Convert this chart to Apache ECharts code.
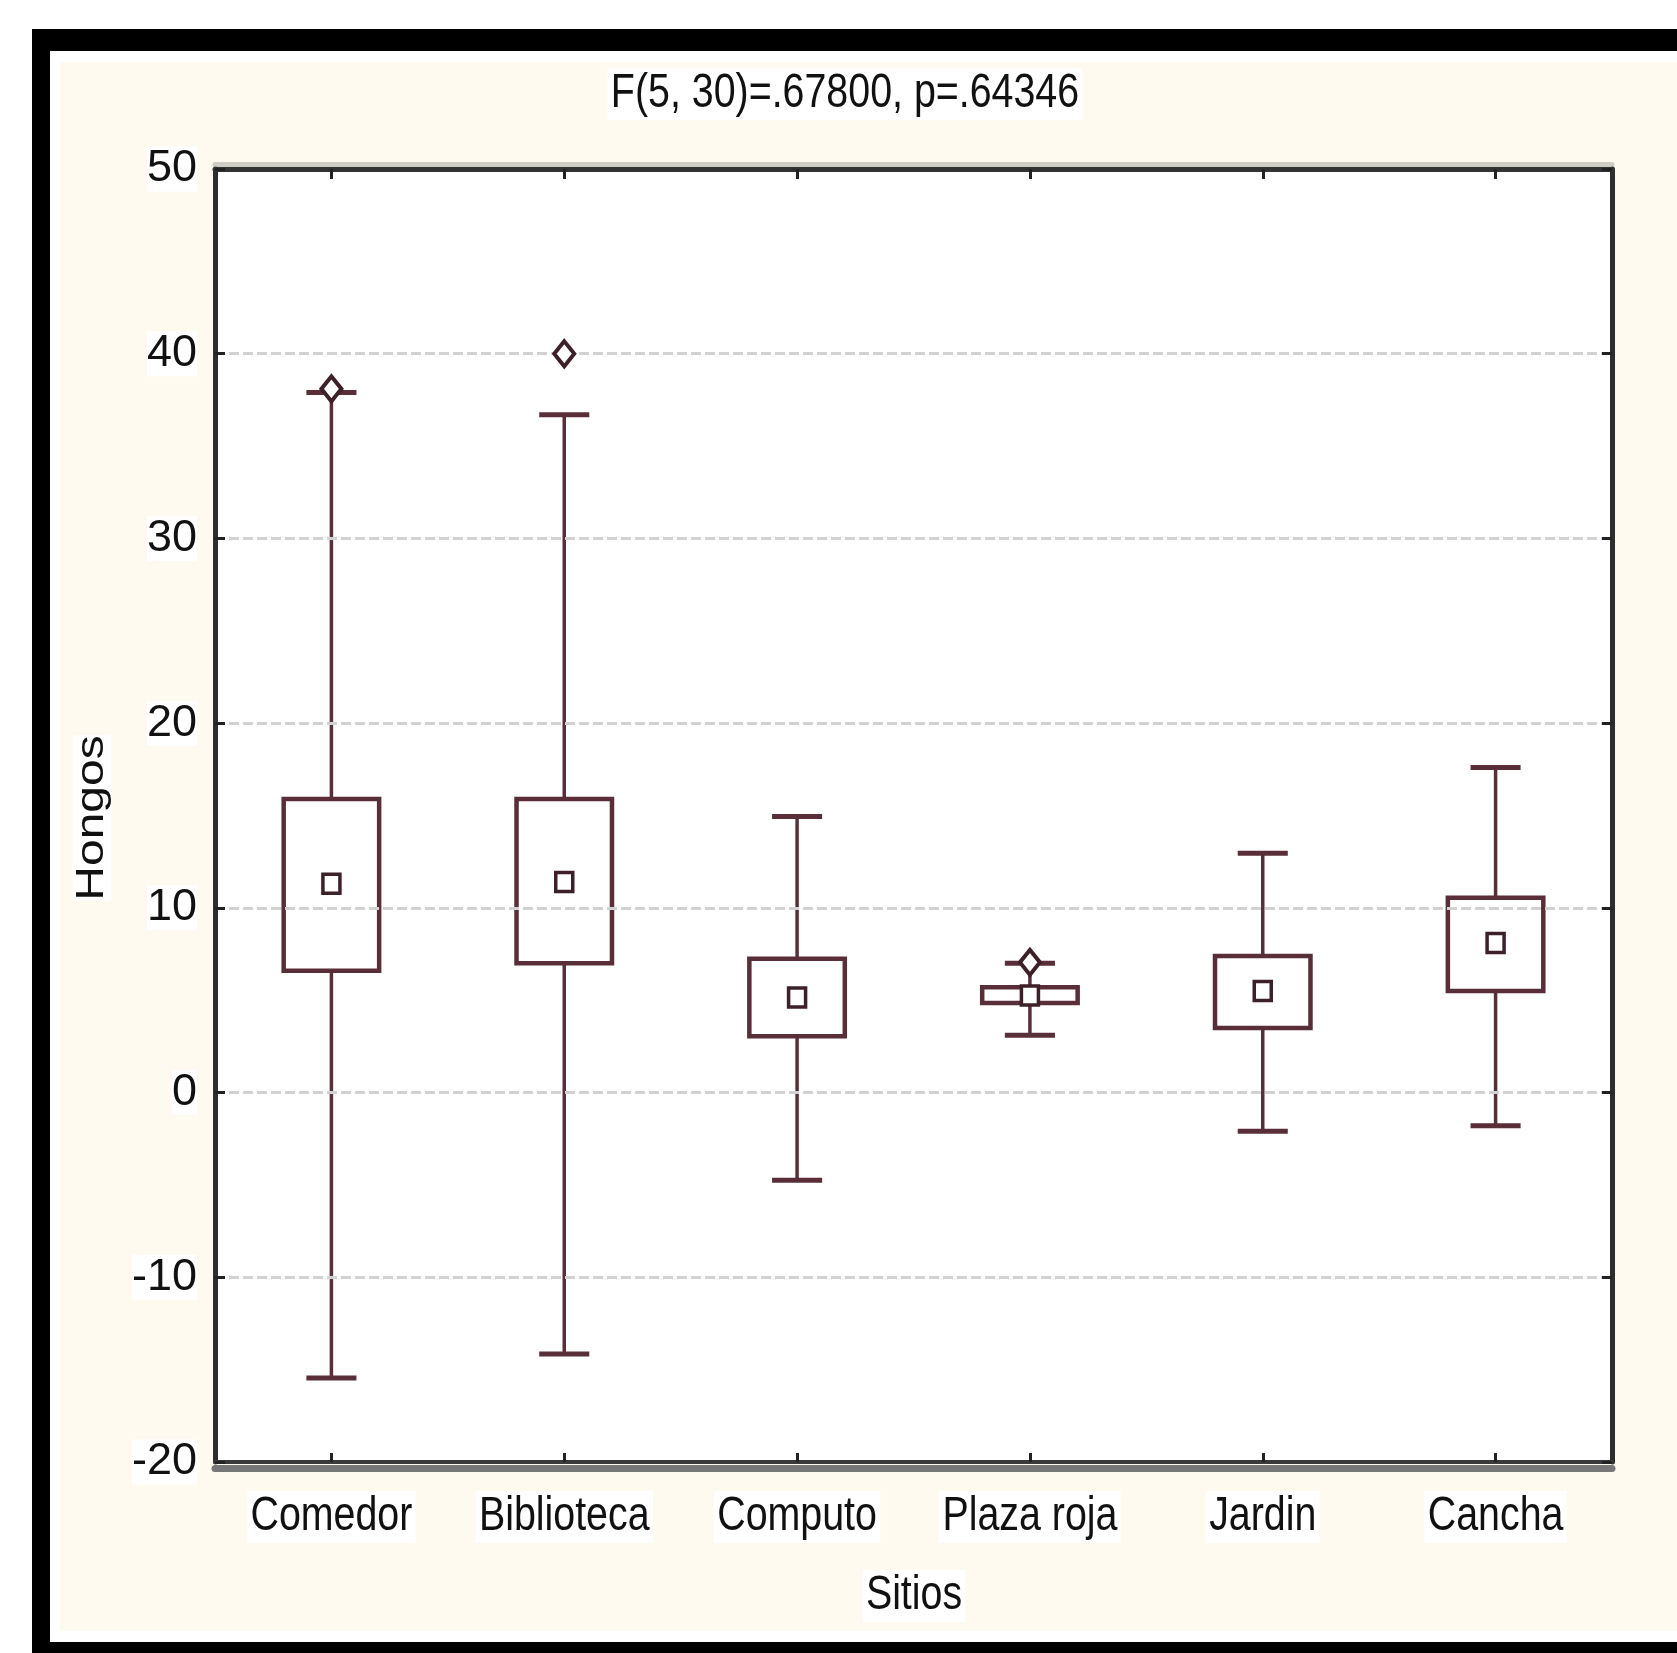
<!DOCTYPE html>
<html>
<head>
<meta charset="utf-8">
<script src="https://cdn.jsdelivr.net/npm/echarts@6/dist/echarts.min.js"></script>
<style>
  html, body { margin: 0; padding: 0; background: #ffffff; }
  #chart { width: 1677px; height: 1653px; }
</style>
</head>
<body>
<div id="chart"></div>
<script>
// ---- data ----
const categories  = ['Comedor', 'Biblioteca', 'Computo', 'Plaza roja', 'Jardin', 'Cancha'];
const centerVals  = [11.3, 11.4, 5.15, 5.25, 5.5, 8.1];
const boxLow      = [6.6, 7.0, 3.05, 4.85, 3.5, 5.5];
const boxHigh     = [15.9, 15.9, 7.25, 5.7, 7.4, 10.55];
const whiskerLow  = [-15.45, -14.15, -4.75, 3.1, -2.1, -1.8];
const whiskerHigh = [37.9, 36.7, 14.95, 7.0, 12.95, 17.6];
const outliers    = [[0, 38.1], [1, 40.0], [3, 7.05]];
const yTicks      = [-20, -10, 0, 10, 20, 30, 40, 50];
const titleText   = 'F(5, 30)=.67800, p=.64346';
const xName       = 'Sitios';
const yName       = 'Hongos';

const REG = "'Liberation Sans', Arial, sans-serif";
const INK = '#5a2e38';
const DARK = '#3e2028';
const CREAM = '#fffaf0';
const SQX = 0.82;   // horizontal squeeze of the reference's lettering

const boxData = categories.map((c, i) => [i, whiskerLow[i], boxLow[i], centerVals[i], boxHigh[i], whiskerHigh[i]]);

const chart = echarts.init(document.getElementById('chart'), null, { renderer: 'canvas' });

const gridBox = { left: 215, top: 169, width: 1397, height: 1293 };

function xCat(extra) {
  return Object.assign({
    type: 'category', data: categories, boundaryGap: true,
    axisLabel: { show: false }, splitLine: { show: false }
  }, extra);
}

const option = {
  backgroundColor: '#ffffff',
  animation: false,
  graphic: [
    { id: 'bk', type: 'rect', z: -10, silent: true, shape: { x: 32, y: 29, width: 1645, height: 1624 }, style: { fill: '#000000' } },
    { id: 'wh', type: 'rect', z: -9, silent: true, shape: { x: 50, y: 51, width: 1627, height: 1591 }, style: { fill: '#ffffff' } },
    { id: 'cr', type: 'rect', z: -8, silent: true, shape: { x: 60, y: 62, width: 1617, height: 1569 }, style: { fill: CREAM } },
    {
      id: 'title', type: 'text', z: 10, silent: true, x: 845, y: 94, scaleX: SQX,
      style: { text: titleText, fontSize: 48, fontFamily: REG, fill: '#111111', align: 'center', verticalAlign: 'middle', backgroundColor: '#ffffff', padding: [2, 4] }
    },
    {
      id: 'yname', type: 'text', z: 10, silent: true, x: 92, y: 818, rotation: Math.PI / 2, scaleY: 0.8,
      style: { text: yName, fontSize: 48, fontFamily: REG, fill: '#111111', align: 'center', verticalAlign: 'middle', backgroundColor: '#ffffff' }
    },
    {
      id: 'xname', type: 'text', z: 10, silent: true, x: 914, y: 1596, scaleX: SQX,
      style: { text: xName, fontSize: 48, fontFamily: REG, fill: '#111111', align: 'center', verticalAlign: 'middle', backgroundColor: '#ffffff', padding: [2, 4] }
    }
  ],
  grid: Object.assign({ show: true, backgroundColor: '#ffffff', borderWidth: 0, containLabel: false }, gridBox),
  xAxis: [
    xCat({
      position: 'bottom', z: 5,
      axisLine: { show: true, onZero: false, lineStyle: { color: '#3a3a3a', width: 4 } },
      axisTick: { show: true, inside: true, alignWithLabel: true, length: 9, lineStyle: { color: '#222', width: 3 } }
    }),
    xCat({
      position: 'top', z: 5,
      axisLine: { show: true, onZero: false, lineStyle: { color: '#333333', width: 5 } },
      axisTick: { show: true, inside: true, alignWithLabel: true, length: 10, lineStyle: { color: '#222', width: 3 } }
    }),
    xCat({
      position: 'bottom', offset: 6, z: 4,
      axisLine: { show: true, onZero: false, lineStyle: { color: '#777777', width: 7 } },
      axisTick: { show: false }
    }),
    xCat({
      position: 'top', offset: 5, z: 4,
      axisLine: { show: true, onZero: false, lineStyle: { color: '#cfcdc4', width: 5 } },
      axisTick: { show: false }
    })
  ],
  yAxis: [
    {
      type: 'value', min: yTicks[0], max: yTicks[yTicks.length - 1], interval: 10, position: 'left',
      axisLine: { show: true, onZero: false, lineStyle: { color: '#2e2e2e', width: 5 } },
      axisTick: { show: true, inside: true, length: 10, lineStyle: { color: '#222', width: 3 } },
      axisLabel: { fontSize: 45, fontFamily: REG, color: '#111111', margin: 18, backgroundColor: '#ffffff' },
      splitLine: { show: true, lineStyle: { color: '#d2d2d2', width: 3, type: [10, 4] } }, z: 5
    },
    {
      type: 'value', min: yTicks[0], max: yTicks[yTicks.length - 1], interval: 10, position: 'right',
      axisLine: { show: true, onZero: false, lineStyle: { color: '#2e2e2e', width: 5 } },
      axisTick: { show: true, inside: true, length: 10, lineStyle: { color: '#222', width: 3 } },
      axisLabel: { show: false }, splitLine: { show: false }, z: 5
    }
  ],
  series: [
    {
      type: 'custom', xAxisIndex: 0, yAxisIndex: 0, z: 3,
      data: boxData,
      encode: { x: 0, y: [1, 2, 3, 4, 5] },
      renderItem: function (params, api) {
        const i = api.value(0);
        const x = api.coord([i, 0])[0];
        const band = api.size([1, 0])[0];
        const bw = band * 0.41;
        const cw = band * 0.215;
        const yWL = api.coord([i, api.value(1)])[1];
        const yBL = api.coord([i, api.value(2)])[1];
        const yC  = api.coord([i, api.value(3)])[1];
        const yBH = api.coord([i, api.value(4)])[1];
        const yWH = api.coord([i, api.value(5)])[1];
        const ls = { stroke: INK, lineWidth: 3.5 };
        const sq = 17;
        return {
          type: 'group',
          children: [
            { type: 'line', shape: { x1: x, y1: yWH, x2: x, y2: yWL }, style: ls },
            { type: 'line', shape: { x1: x - cw / 2, y1: yWH, x2: x + cw / 2, y2: yWH }, style: { stroke: INK, lineWidth: 5 } },
            { type: 'line', shape: { x1: x - cw / 2, y1: yWL, x2: x + cw / 2, y2: yWL }, style: { stroke: INK, lineWidth: 5 } },
            { type: 'rect', shape: { x: x - bw / 2, y: yBH, width: bw, height: yBL - yBH }, style: { fill: '#ffffff', stroke: INK, lineWidth: 4.5 } },
            { type: 'rect', shape: { x: x - sq / 2, y: yC - sq / 2 - 1, width: sq, height: sq + 2 }, style: { fill: '#ffffff', stroke: DARK, lineWidth: 3.5 } }
          ]
        };
      }
    },
    {
      type: 'scatter', xAxisIndex: 0, yAxisIndex: 0, z: 6,
      data: outliers,
      symbol: 'diamond', symbolSize: [20, 25],
      itemStyle: { color: '#ffffff', borderColor: DARK, borderWidth: 4, opacity: 1 }
    }
  ]
};

chart.setOption(option);

// category labels: placed at the category axis positions, squeezed like the reference lettering
const labelY = gridBox.top + gridBox.height + 55;
const catLabels = categories.map((c, i) => ({
  id: 'xl' + i, type: 'text', z: 10, silent: true,
  x: chart.convertToPixel({ xAxisIndex: 0 }, c), y: labelY, scaleX: SQX,
  style: { text: c, fontSize: 48, fontFamily: REG, fill: '#111111', align: 'center', verticalAlign: 'middle', backgroundColor: '#ffffff', padding: [2, 4] }
}));
chart.setOption({ graphic: catLabels });
</script>
</body>
</html>
